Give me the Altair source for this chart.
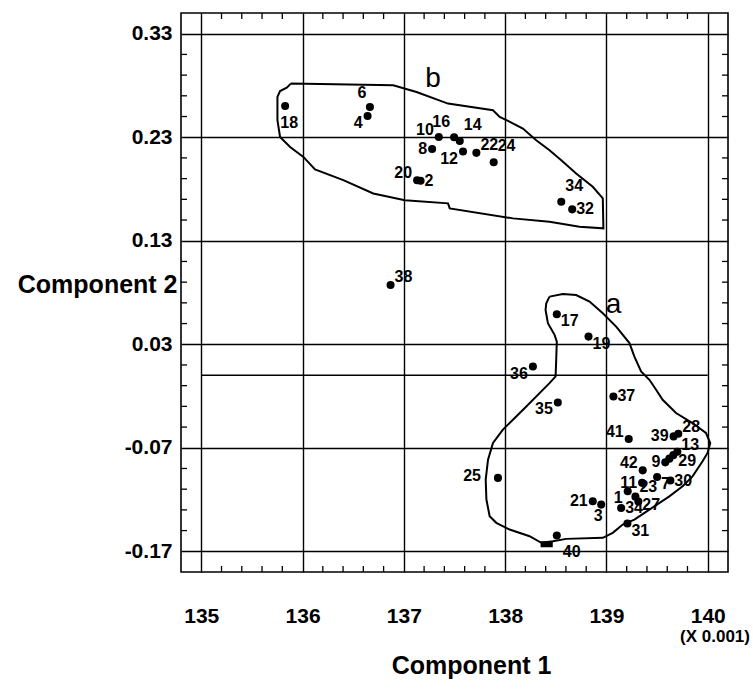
import altair as alt
import pandas as pd

# ---------------- data ----------------
pt_id = ["18", "6", "4", "10", "16", "14", "8", "12", "22", "24", "20", "2", "34", "32", "38",
         "17", "19", "36", "37", "35", "41", "25", "39", "28", "13", "9", "33", "29", "42",
         "7", "30", "11", "1", "23", "27", "21", "3", "34", "31", "40"]
pt_x = [135.828, 136.665, 136.642, 137.345, 137.496, 137.552, 137.279, 137.584, 137.716, 137.887,
        137.131, 137.165, 138.554, 138.662, 136.869,
        138.510, 138.823, 138.274, 139.069, 138.520, 139.220, 137.929, 139.663, 139.709, 139.700,
        139.581, 139.621, 139.660, 139.358, 139.500, 139.631, 139.352, 139.210, 139.286, 139.315,
        138.865, 138.948, 139.145, 139.207, 138.510]
pt_y = [0.2602, 0.2592, 0.2505, 0.2303, 0.2300, 0.2264, 0.2187, 0.2162, 0.2149, 0.2059,
        0.1885, 0.1879, 0.1676, 0.1603, 0.0873,
        0.0590, 0.0374, 0.0085, -0.0204, -0.0262, -0.0615, -0.0991, -0.0590, -0.0564, -0.0738,
        -0.0841, -0.0805, -0.0771, -0.0918, -0.0982, -0.1017, -0.1039, -0.1120, -0.1172, -0.1220,
        -0.1217, -0.1249, -0.1281, -0.1432, -0.1548]
pt_place = ["d", "ul", "ld", "lu", "luu", "ruu", "l", "ld", "ru", "ruu", "lu", "r", "ruu", "r", "ru",
            "rd", "rd", "ld", "r", "ld", "lu", "ll", "l", "ru7", "ru7", "l", "none", "rd6", "lu",
            "rd", "r", "l", "ld", "ruu10", "rd2", "l", "dl", "r", "rd", "rdd"]

# outline of group b
hb_x = [135.884, 136.895, 137.125, 137.436, 137.880, 137.946, 138.028, 138.175, 138.307, 138.438,
        138.554, 138.701, 138.865, 138.964, 138.970, 138.734, 138.438, 138.077, 137.453, 137.436,
        137.010, 136.698, 136.402, 136.123, 136.008, 135.877, 135.778, 135.752, 135.752, 135.778,
        135.844, 135.884]
hb_y = [0.2818, 0.2801, 0.2737, 0.2625, 0.2560, 0.2496, 0.2457, 0.2384, 0.2271, 0.2175,
        0.2078, 0.1950, 0.1821, 0.1709, 0.1420, 0.1435, 0.1483, 0.1516, 0.1612, 0.1661,
        0.1692, 0.1757, 0.1885, 0.1989, 0.2110, 0.2206, 0.2303, 0.2464, 0.2689, 0.2746,
        0.2779, 0.2818]

# outline of group a
ha_x = [138.438, 138.569, 138.701, 138.833, 138.964, 139.096, 139.227, 139.276, 139.342, 139.424,
        139.490, 139.555, 139.687, 139.850, 139.982, 140.025, 139.998, 139.949, 139.850, 139.752,
        139.621, 139.424, 139.276, 139.161, 139.062, 138.964, 138.603, 138.471, 138.357, 138.241,
        138.044, 137.913, 137.847, 137.815, 137.808, 137.831, 137.880, 137.978, 138.077, 138.209,
        138.340, 138.438, 138.498, 138.504, 138.510, 138.488, 138.422, 138.399, 138.406, 138.438]
ha_y = [0.0760, 0.0786, 0.0776, 0.0712, 0.0600, 0.0471, 0.0311, 0.0181, 0.0037, -0.0043,
        -0.0140, -0.0236, -0.0364, -0.0461, -0.0557, -0.0654, -0.0750, -0.0831, -0.0976, -0.1072,
        -0.1169, -0.1297, -0.1394, -0.1442, -0.1522, -0.1570, -0.1580, -0.1603, -0.1618, -0.1554,
        -0.1490, -0.1425, -0.1361, -0.1200, -0.1007, -0.0815, -0.0654, -0.0525, -0.0429, -0.0301,
        -0.0172, -0.0075, -0.0011, 0.0150, 0.0326, 0.0391, 0.0503, 0.0632, 0.0696, 0.0760]

group_names = ["a", "b"]
group_x = [139.07, 137.289]
group_y = [0.068, 0.2866]

# small filled block on the outline of a, near point 40
blk_x, blk_x2, blk_y, blk_y2 = [138.35], [138.47], [-0.1603], [-0.1661]

# stray horizontal line in the original figure
stray_x, stray_x2, stray_y = [135.0], [140.0], [0.0]

x_ticks = [135, 136, 137, 138, 139, 140]
y_ticks = [-0.17, -0.07, 0.03, 0.13, 0.23, 0.33]
x_domain = [134.8, 140.2]
y_domain = [-0.19, 0.35]

# ---------------- layout ----------------
W, H = 547, 559
FONT = "Liberation Sans"
xs = alt.Scale(domain=x_domain, nice=False, zero=False)
ys = alt.Scale(domain=y_domain, nice=False, zero=False)

pts = pd.DataFrame({"id": pt_id, "x": pt_x, "y": pt_y, "place": pt_place})
hull = pd.DataFrame({
    "x": hb_x + ha_x,
    "y": hb_y + ha_y,
    "g": ["b"] * len(hb_x) + ["a"] * len(ha_x),
    "o": list(range(len(hb_x))) + list(range(len(ha_x))),
})
groups = pd.DataFrame({"name": group_names, "x": group_x, "y": group_y})

minor_x = [round(135 + i * 0.2, 1) for i in range(1, 25) if i % 5 != 0]
minor_y = [round(-0.17 + i * 0.02, 2) for i in range(1, 25) if i % 5 != 0]
mx = pd.DataFrame({"x": minor_x})
my = pd.DataFrame({"y": minor_y})

x_axis = alt.Axis(values=x_ticks, format="d", grid=True, gridColor="black", gridOpacity=1,
                  gridWidth=1.4, ticks=False, domain=False, labelFont=FONT, labelFontSize=21,
                  labelFontWeight="bold", labelColor="black", labelPadding=33, labelFlush=False,
                  labelOverlap=False, title="Component 1", titleFont=FONT, titleFontSize=25,
                  titleFontWeight="bold", titleColor="black", titleX=290, titleY=93,
                  titleAlign="center", titleBaseline="middle")
y_axis = alt.Axis(values=y_ticks, grid=True, gridColor="black", gridOpacity=1, gridWidth=1.4,
                  ticks=False, domain=False, labelFont=FONT, labelFontSize=21,
                  labelFontWeight="bold", labelColor="black", labelPadding=9, labelFlush=False,
                  labelOverlap=False,
                  labelExpr="replace(format(datum.value, '.2f'), '\u2212', '-')",
                  title="Component 2", titleFont=FONT, titleFontSize=25, titleFontWeight="bold",
                  titleColor="black", titleAngle=0, titleX=-4, titleY=271, titleAlign="right",
                  titleBaseline="middle")


def X(field="x:Q"):
    return alt.X(field, scale=xs, axis=x_axis)


def Y(field="y:Q"):
    return alt.Y(field, scale=ys, axis=y_axis)


base_pts = alt.Chart(pts)

dots = base_pts.mark_circle(size=65, color="black", opacity=1).encode(x=X(), y=Y())

outline = alt.Chart(hull).mark_line(color="black", strokeWidth=2).encode(
    x=X(), y=Y(), detail="g:N", order="o:Q")

block = alt.Chart(pd.DataFrame({"x": blk_x, "x2": blk_x2, "y": blk_y, "y2": blk_y2})).mark_rect(
    color="black").encode(x=X(), x2="x2:Q", y=Y(), y2="y2:Q")

stray = alt.Chart(pd.DataFrame({"x": stray_x, "x2": stray_x2, "y": stray_y})).mark_rule(
    color="black", strokeWidth=1.4).encode(x=X(), x2="x2:Q", y=Y())

TL = 6
tick_style = dict(color="black", strokeWidth=1.3)
t_bottom = alt.Chart(mx).mark_rule(**tick_style).encode(
    x=X(), y=alt.value(H), y2=alt.value(H - TL))
t_top = alt.Chart(mx).mark_rule(**tick_style).encode(
    x=X(), y=alt.value(0), y2=alt.value(TL))
t_left = alt.Chart(my).mark_rule(**tick_style).encode(
    y=Y(), x=alt.value(0), x2=alt.value(TL))
t_right = alt.Chart(my).mark_rule(**tick_style).encode(
    y=Y(), x=alt.value(W), x2=alt.value(W - TL))

placements = {
    "r": ("left", 4, 0),
    "ru": ("left", 4, -8),
    "ru7": ("left", 4, -7),
    "ruu": ("left", 4, -16),
    "ruu10": ("left", 4, -10),
    "rd": ("left", 4, 7),
    "rd2": ("left", 4, 3),
    "rd6": ("left", 5, 6),
    "rdd": ("left", 6, 16),
    "l": ("right", -5, 0),
    "lu": ("right", -5, -7),
    "luu": ("right", -4, -15),
    "ld": ("right", -5, 7),
    "ll": ("right", -17, -2),
    "ul": ("center", -8, -14),
    "d": ("center", 4, 17),
    "dl": ("center", -3, 11),
}
label_layers = []
for key, (al, dx, dy) in placements.items():
    label_layers.append(
        base_pts.transform_filter(alt.datum.place == key).mark_text(
            align=al, baseline="middle", dx=dx, dy=dy, font=FONT, fontSize=16,
            fontWeight="bold", color="black").encode(x=X(), y=Y(), text="id:N")
    )

group_labels = alt.Chart(groups).mark_text(
    font=FONT, fontSize=28, color="black", baseline="middle", align="center").encode(
    x=X(), y=Y(), text="name:N")

unit_note = alt.Chart(pd.DataFrame({"t": ["(X 0.001)"]})).mark_text(
    font=FONT, fontSize=17, fontWeight="bold", color="black", align="center",
    baseline="middle").encode(x=alt.value(534), y=alt.value(624), text="t:N")

chart = alt.layer(
    dots, stray, outline, block, t_bottom, t_top, t_left, t_right,
    *label_layers, group_labels, unit_note
).properties(
    width=W, height=H,
    background="white",
    autosize=alt.AutoSizeParams(type="none"),
    padding={"left": 181, "top": 13, "right": 25, "bottom": 118},
).configure_view(
    stroke="black", strokeWidth=1.6
)

chart.save("out.html", embed_options={"renderer": "svg", "actions": False})
